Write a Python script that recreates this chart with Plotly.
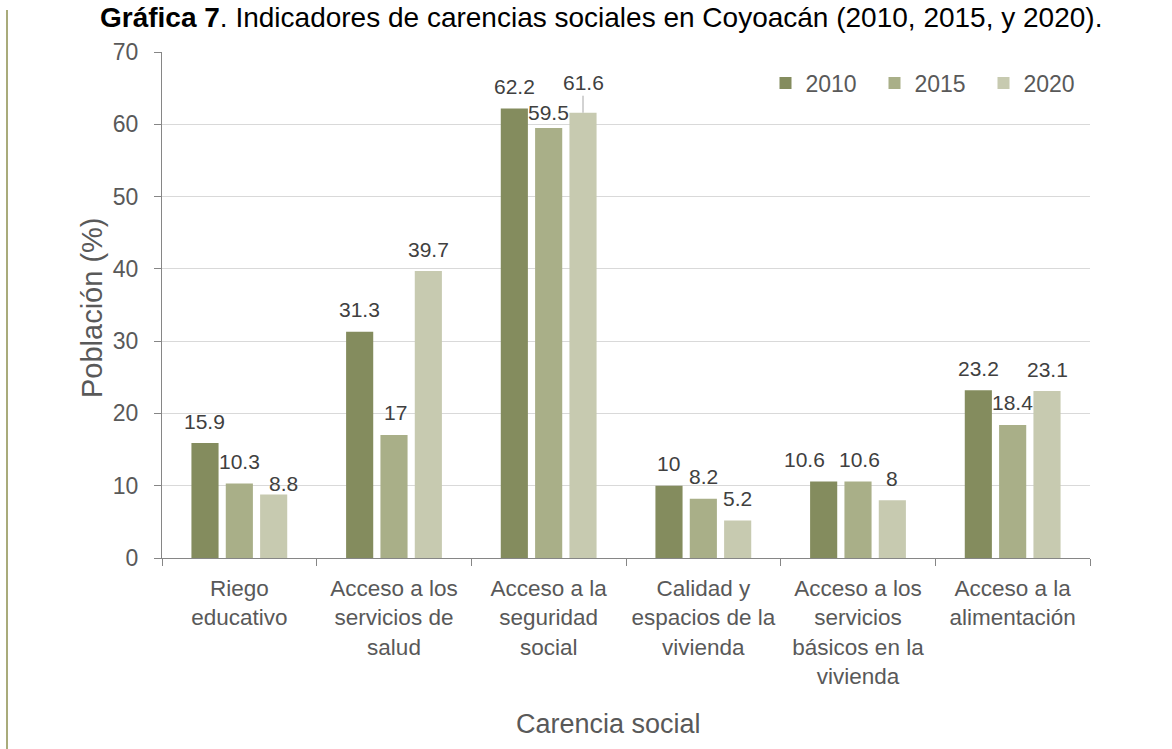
import plotly.graph_objects as go

# Carencias sociales en Coyoacán, porcentaje de la población
categorias = [
    "Riego<br>educativo",
    "Acceso a los<br>servicios de<br>salud",
    "Acceso a la<br>seguridad<br>social",
    "Calidad y<br>espacios de la<br>vivienda",
    "Acceso a los<br>servicios<br>básicos en la<br>vivienda",
    "Acceso a la<br>alimentación",
]
anios = ["2010", "2015", "2020"]
valores_2010 = [15.9, 31.3, 62.2, 10, 10.6, 23.2]
valores_2015 = [10.3, 17, 59.5, 8.2, 10.6, 18.4]
valores_2020 = [8.8, 39.7, 61.6, 5.2, 8, 23.1]
y_ticks = [0, 10, 20, 30, 40, 50, 60, 70]

series = [valores_2010, valores_2015, valores_2020]
colores = ["#848C5E", "#A9AF88", "#C7CAB0"]

W, H = 1172, 749
ML, MR, MT, MB = 162, 82, 52, 191
BARGAP = 0.334
BARGROUPGAP = 0.21
FONT = "Arial, Liberation Sans, sans-serif"

fig = go.Figure()
for anio, vals, col in zip(anios, series, colores):
    fig.add_trace(go.Bar(
        name=anio, x=categorias, y=vals, marker_color=col,
        marker_line_width=0,
    ))

# horizontal pixel offset of each series inside its category group
plot_w = W - ML - MR
plot_h = H - MT - MB
cat_w = plot_w / len(categorias)
slot = cat_w * (1 - BARGAP) / len(anios)
offsets = [(k - (len(anios) - 1) / 2) * slot for k in range(len(anios))]

# label placement tweaks: (series, category) -> (dx, dy above bar top)
ajustes = {
    (2, 0): (10, 10.5),
    (1, 1): (1, 22.5),
    (1, 2): (0, 15.5),
    (0, 4): (-19, 22),
    (1, 4): (1, 22),
}
etiqueta_con_guia = (2, 2)

anns = []
for s, vals in enumerate(series):
    for c, v in enumerate(vals):
        txt = f"{v:g}"
        if (s, c) == etiqueta_con_guia:
            anns.append(dict(
                x=categorias[c], y=v, xref="x", yref="y", text=txt,
                xshift=offsets[s], showarrow=True, ax=0, ay=-30,
                arrowhead=0, arrowwidth=1, arrowcolor="#A6A6A6", standoff=0,
                font=dict(family=FONT, size=21, color="#404040"),
            ))
            continue
        dx, dy = ajustes.get((s, c), (0, 22))
        anns.append(dict(
            x=categorias[c], y=v, xref="x", yref="y", text=txt,
            xshift=offsets[s] + dx, yshift=dy, showarrow=False,
            xanchor="center", yanchor="middle",
            font=dict(family=FONT, size=21, color="#404040"),
        ))

# axis titles
anns.append(dict(
    x=(608 - ML) / plot_w, y=-(724 - (H - MB)) / plot_h, xref="paper", yref="paper",
    text="Carencia social", showarrow=False, xanchor="center", yanchor="middle",
    font=dict(family=FONT, size=27, color="#595959"),
))
anns.append(dict(
    x=-(ML - 92) / plot_w, y=1 - (308 - MT) / plot_h, xref="paper", yref="paper",
    text="Población (%)", showarrow=False, textangle=-90,
    xanchor="center", yanchor="middle",
    font=dict(family=FONT, size=29, color="#595959"),
))
# chart caption at the very top of the page
anns.append(dict(
    x=(601 - ML) / plot_w, y=1 + MT / plot_h, xref="paper", yref="paper",
    text="<b>Gráfica 7</b>. Indicadores de carencias sociales en Coyoacán (2010, 2015, y 2020).",
    showarrow=False, xanchor="center", yanchor="top",
    font=dict(family=FONT, size=28, color="#000000"),
))

fig.update_layout(
    width=W, height=H,
    margin=dict(l=ML, r=MR, t=MT, b=MB, pad=0),
    paper_bgcolor="white", plot_bgcolor="white",
    barmode="group", bargap=BARGAP, bargroupgap=BARGROUPGAP,
    annotations=anns,
    showlegend=True,
    legend=dict(
        orientation="h", x=(765.5 - ML) / plot_w, y=(H - MB - 83) / plot_h,
        xanchor="left", yanchor="middle", entrywidth=64,
        font=dict(family=FONT, size=23, color="#595959"),
        bgcolor="rgba(0,0,0,0)", itemclick=False,
    ),
    shapes=[dict(
        type="line", xref="paper", yref="paper",
        x0=-(ML - 7) / plot_w, x1=-(ML - 7) / plot_w,
        y0=-MB / plot_h, y1=1 + (MT - 10) / plot_h,
        line=dict(color="#8C8F4F", width=1.5),
    )],
)

fig.update_xaxes(
    type="category", showline=True, linecolor="#868686", linewidth=1.3,
    ticks="outside", tickson="boundaries", ticklen=7, tickcolor="#868686",
    tickwidth=1.3, showgrid=False, ticklabelstandoff=10,
    tickfont=dict(family=FONT, size=22.5, color="#595959"),
)
fig.update_yaxes(
    range=[0, 70], tickvals=y_ticks, showline=True, linecolor="#868686",
    linewidth=1.3, ticks="outside", ticklen=7, tickcolor="#868686", tickwidth=1.3,
    showgrid=True, gridcolor="#D9D9D9", gridwidth=1.3, zeroline=False,
    ticklabelstandoff=11,
    tickfont=dict(family=FONT, size=23, color="#595959"),
)

fig.write_html("out.html")
